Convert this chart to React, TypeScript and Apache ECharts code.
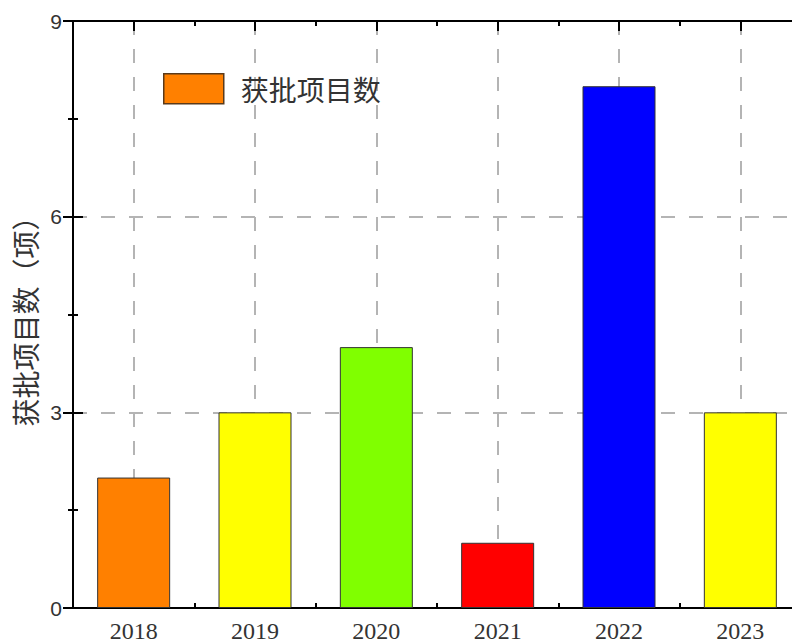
import React, { useEffect, useRef } from "react";
import * as echarts from "echarts";

const categories = ["2018", "2019", "2020", "2021", "2022", "2023"];
const values = [2, 3, 4, 1, 8, 3];
const barColors = ["#FF8000", "#FFFF00", "#80FF00", "#FF0000", "#0000FF", "#FFFF00"];
const seriesName = "获批项目数";
const yAxisName = "获批项目数（项）";
const yMin = 0;
const yMax = 9;
const yInterval = 3;

export default function App() {
  const ref = useRef<HTMLDivElement>(null);
  useEffect(() => {
    if (!ref.current) return;
    const chart = echarts.init(ref.current, null, { renderer: "svg" });
    const black = { color: "#000", width: 2 };
    const grid = { color: "#b4b4b4", width: 2, type: [14, 14] as any };
    const catAxis = (position: string, showLabel: boolean) => ({
      type: "category",
      data: categories,
      position,
      boundaryGap: true,
      axisLine: { show: true, lineStyle: black },
      axisTick: { show: true, inside: true, alignWithLabel: true, length: 10, lineStyle: black },
      axisLabel: {
        show: showLabel,
        margin: 11,
        fontSize: 24,
        color: "#333",
        fontFamily: "Liberation Serif",
      },
      splitLine: { show: false },
    });
    const helperAxis = (position: string, showGrid: boolean) => ({
      type: "value",
      position,
      min: 0,
      max: categories.length,
      interval: 1,
      axisLine: { show: false },
      axisTick: { show: true, inside: true, length: 5, lineStyle: black },
      axisLabel: { show: false },
      splitLine: { show: false },
      minorTick: { show: false, splitNumber: 2 },
      minorSplitLine: { show: showGrid, lineStyle: grid },
    });
    const valAxis = (position: string, showLabel: boolean) => ({
      type: "value",
      position,
      min: yMin,
      max: yMax,
      interval: yInterval,
      name: showLabel ? yAxisName : undefined,
      nameLocation: "middle",
      nameGap: 31,
      nameTextStyle: { fontSize: 28, color: "#333", fontFamily: "Noto Sans CJK SC" },
      axisLine: { show: true, lineStyle: black },
      axisTick: { show: true, inside: true, length: 10, lineStyle: black },
      minorTick: { show: true, splitNumber: 2, length: 5, lineStyle: black },
      axisLabel: {
        show: showLabel,
        margin: 11,
        fontSize: 21,
        color: "#333",
        fontFamily: "Liberation Sans",
      },
      splitLine: { show: showLabel, lineStyle: grid },
    });
    chart.setOption({
      animation: false,
      backgroundColor: "#fff",
      grid: { left: 73, top: 21, width: 728, height: 587, containLabel: false },
      legend: {
        left: 163,
        top: 73,
        padding: 0,
        icon: "rect",
        itemWidth: 60,
        itemHeight: 30,
        data: [
          {
            name: seriesName,
            itemStyle: { color: barColors[0], borderColor: "#5a3a1a", borderWidth: 1.5 },
          },
        ],
        textStyle: {
          fontSize: 28,
          color: "#333",
          fontFamily: "Noto Sans CJK SC",
          padding: [0, 0, 0, 12],
        },
      },
      xAxis: [
        catAxis("bottom", true),
        helperAxis("bottom", true),
        catAxis("top", false),
        helperAxis("top", false),
      ],
      yAxis: [valAxis("left", true), valAxis("right", false)],
      series: [
        {
          name: seriesName,
          type: "bar",
          xAxisIndex: 0,
          yAxisIndex: 0,
          barWidth: 73,
          itemStyle: { color: barColors[0], borderColor: "#333", borderWidth: 1 },
          data: values.map((v, i) => ({ value: v, itemStyle: { color: barColors[i] } })),
        },
      ],
    });
    return () => chart.dispose();
  }, []);
  return (
    <div style={{ position: "fixed", left: 0, top: 0, width: 792, height: 644, overflow: "hidden", background: "#fff" }}>
      <div ref={ref} style={{ width: 830, height: 680 }} />
    </div>
  );
}
